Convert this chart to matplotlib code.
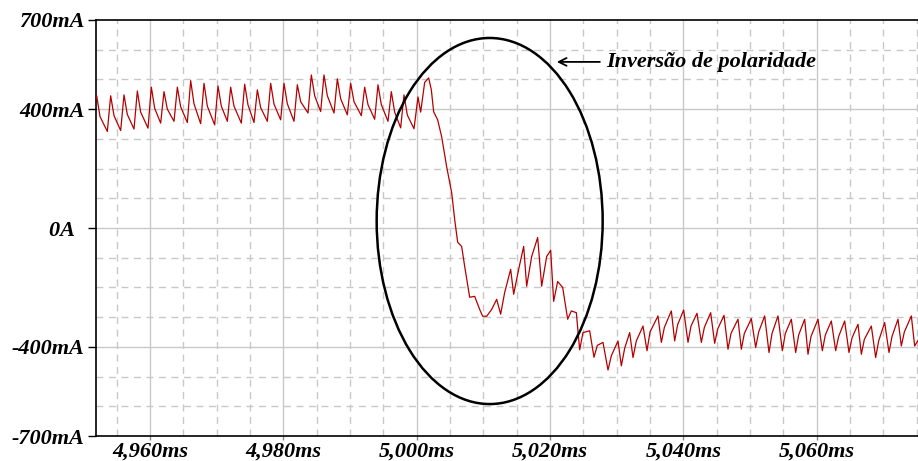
import numpy as np
import matplotlib
matplotlib.use("Agg")
import matplotlib.pyplot as plt
from matplotlib.patches import Ellipse
from matplotlib.ticker import MultipleLocator, FixedLocator

# %%
# Waveform (time in ms, current in mA)
time_ms = [
    4951.9,
    4952.0, 4952.5, 4953.6,
    4954.1, 4954.6, 4955.6,
    4956.1, 4956.6, 4957.6,
    4958.1, 4958.6, 4959.7,
    4960.2, 4960.7, 4961.6,
    4962.1, 4962.6, 4963.6,
    4964.1, 4964.6, 4965.6,
    4966.1, 4966.6, 4967.6,
    4968.1, 4968.6, 4969.7,
    4970.2, 4970.7, 4971.6,
    4972.1, 4972.6, 4973.7,
    4974.2, 4974.7, 4975.6,
    4976.1, 4976.6, 4977.6,
    4978.1, 4978.6, 4979.6,
    4980.1, 4980.6, 4981.6,
    4982.1, 4982.6, 4983.7,
    4984.2, 4984.7, 4985.6,
    4986.1, 4986.6, 4987.6,
    4988.1, 4988.6, 4989.6,
    4990.1, 4990.6, 4991.7,
    4992.2, 4992.7, 4993.7,
    4994.2, 4994.7, 4995.7,
    4996.2, 4996.7, 4997.6,
    4998.1, 4998.6, 4999.6,
    5000.2, 5000.6, 5001.2, 5001.8, 5002.2,
    # polarity inversion
    5002.55, 5003.15, 5003.75, 5004.5, 5005.25, 5005.7, 5006.15, 5006.75,
    5007.2, 5007.95, 5008.7, 5009.45, 5009.9, 5010.5, 5011.25, 5012.0,
    5012.6, 5013.2, 5014.1, 5014.55, 5015.3, 5016.05, 5016.5, 5017.25,
    5018.15, 5018.75, 5019.5, 5020.1, 5020.55, 5021.15, 5021.9, 5022.65,
    5023.2, 5023.95, 5024.45, 5024.95, 5025.95,
    # negative steady state
    5026.6, 5027.1, 5027.95,
    5028.7, 5029.2, 5030.2,
    5030.7, 5031.2, 5031.95,
    5032.45, 5032.95, 5033.95,
    5034.55, 5035.0, 5036.2,
    5036.7, 5037.15, 5038.2,
    5038.7, 5039.15, 5040.05,
    5040.7, 5041.15, 5042.05,
    5042.7, 5043.15, 5044.1,
    5044.7, 5045.15, 5046.1,
    5046.7, 5047.15, 5048.2,
    5048.7, 5049.15, 5050.2,
    5050.85, 5051.3, 5052.2,
    5052.85, 5053.3, 5054.2,
    5054.85, 5055.3, 5056.2,
    5056.85, 5057.3, 5058.2,
    5058.7, 5059.15, 5060.2,
    5060.85, 5061.3, 5062.2,
    5062.85, 5063.3, 5064.2,
    5064.85, 5065.3, 5066.2,
    5066.7, 5067.15, 5068.2,
    5068.85, 5069.3, 5070.2,
    5070.85, 5071.3, 5072.2,
    5072.7, 5073.15, 5074.2,
    5074.7, 5075.3,
]
current_ma = [
    440,
    445, 375, 325,
    445, 378, 328,
    448, 382, 333,
    461, 390, 336,
    474, 403, 353,
    459, 400, 359,
    474, 408, 355,
    496, 418, 351,
    487, 410, 347,
    478, 410, 359,
    474, 410, 353,
    484, 414, 355,
    465, 405, 359,
    487, 417, 364,
    487, 418, 359,
    482, 425, 387,
    515, 445, 392,
    515, 445, 387,
    502, 435, 381,
    487, 425, 378,
    474, 415, 366,
    482, 415, 359,
    459, 390, 337,
    448, 380, 334,
    441, 390, 490, 505, 465,
    391, 364, 307, 206, 119, 29, -48, -62,
    -129, -233, -230, -274, -297, -297, -274, -240,
    -290, -217, -139, -223, -139, -62, -196, -96,
    -32, -196, -96, -75, -247, -180, -200, -307,
    -279, -285, -410, -352, -346,
    -435, -395, -385,
    -478, -430, -380,
    -464, -405, -352,
    -436, -380, -330,
    -413, -350, -296,
    -385, -335, -279,
    -380, -325, -276,
    -385, -330, -287,
    -385, -335, -285,
    -388, -340, -294,
    -408, -355, -307,
    -408, -355, -305,
    -402, -350, -296,
    -419, -355, -296,
    -413, -355, -307,
    -419, -360, -307,
    -425, -365, -307,
    -413, -360, -313,
    -413, -365, -313,
    -419, -370, -324,
    -425, -375, -330,
    -436, -380, -318,
    -419, -365, -307,
    -397, -350, -296,
    -397, -375,
]

x_ticks = [4960, 4980, 5000, 5020, 5040, 5060]
x_labels = ["4,960ms", "4,980ms", "5,000ms", "5,020ms", "5,040ms", "5,060ms"]
y_ticks = [-700, -400, 0, 400, 700]
y_labels = ["-700mA", "-400mA", "0A  ", "400mA", "700mA"]
y_grid_major = [-400, 0, 400]

annotation = "Inversão de polaridade"

# %%
fig = plt.figure(figsize=(9.18, 4.61), dpi=100)
ax = fig.add_axes([96 / 918, 25 / 461, 822 / 918, 416 / 461])

grid_col = "#c8c8c8"
for xv in np.arange(4955, 5076, 5):
    if xv in x_ticks:
        ax.axvline(xv, color=grid_col, lw=1.0, zorder=0)
    else:
        ax.axvline(xv, color=grid_col, lw=1.0, ls=(0, (5, 4)), zorder=0)
for yv in np.arange(-600, 601, 100):
    if yv in y_grid_major:
        ax.axhline(yv, color=grid_col, lw=1.0, zorder=0)
    else:
        ax.axhline(yv, color=grid_col, lw=1.0, ls=(0, (5, 4)), zorder=0)

ax.plot(time_ms, current_ma, color="#b40000", lw=0.9, zorder=3)

ell = Ellipse((5010.95, 23.5), width=33.9, height=1232, fill=False,
              edgecolor="black", lw=1.8, zorder=4)
ax.add_patch(ell)

ax.annotate("", xy=(5020.6, 559), xytext=(5027.9, 559),
            arrowprops=dict(arrowstyle="->", color="black", lw=1.3,
                            mutation_scale=14))
ax.text(5028.4, 559, annotation, fontsize=16, family="Liberation Serif",
        style="italic", weight="bold", va="center", ha="left")

ax.set_xlim(4951.9, 5075.2)
ax.set_ylim(-700, 700)
ax.xaxis.set_major_locator(FixedLocator(x_ticks))
ax.set_xticklabels(x_labels)
ax.yaxis.set_major_locator(FixedLocator(y_ticks))
ax.set_yticklabels(y_labels)

for lab in ax.get_xticklabels() + ax.get_yticklabels():
    lab.set_family("Liberation Serif")
    lab.set_style("italic")
    lab.set_weight("bold")
    lab.set_fontsize(16)

ax.tick_params(axis="y", length=6, width=1, color="black", pad=2)
ax.tick_params(axis="x", length=3, width=1, color="#888888", pad=1)

for side in ["left", "bottom", "top"]:
    ax.spines[side].set_color("black")
    ax.spines[side].set_linewidth(1.2)
ax.spines["right"].set_visible(False)
ax.set_facecolor("white")

fig.savefig("out.png", dpi=100)
